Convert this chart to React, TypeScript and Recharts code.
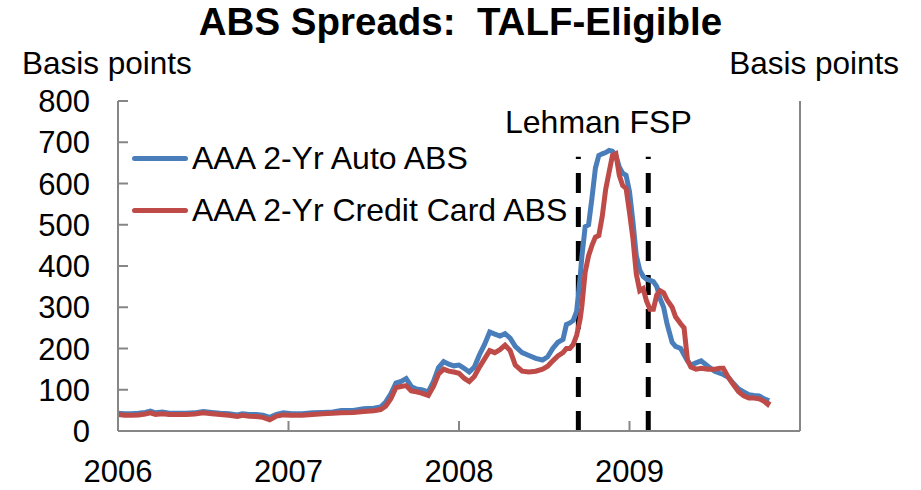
import { LineChart, Line, XAxis, YAxis, ReferenceLine, Legend } from "recharts";

// weekly-ish observation dates, as decimal years
const dates = [
  2006.0, 2006.04, 2006.08, 2006.12, 2006.16, 2006.19, 2006.22, 2006.26, 2006.3, 2006.35,
  2006.4, 2006.45, 2006.5, 2006.55, 2006.6, 2006.65, 2006.7, 2006.73, 2006.77, 2006.81,
  2006.85, 2006.89, 2006.93, 2006.97, 2007.02, 2007.08, 2007.14, 2007.2, 2007.26, 2007.31,
  2007.38, 2007.44, 2007.5, 2007.54, 2007.57, 2007.6, 2007.63, 2007.66, 2007.69, 2007.72,
  2007.75, 2007.78, 2007.82, 2007.85, 2007.88, 2007.91, 2007.94, 2007.97, 2008.0, 2008.03,
  2008.06, 2008.09, 2008.12, 2008.15, 2008.18, 2008.21, 2008.24, 2008.27, 2008.3, 2008.33,
  2008.37, 2008.41, 2008.45, 2008.49, 2008.52, 2008.55, 2008.58, 2008.61, 2008.63, 2008.65,
  2008.67, 2008.69, 2008.71, 2008.72, 2008.74, 2008.76, 2008.78, 2008.8, 2008.82, 2008.84,
  2008.86, 2008.88, 2008.9, 2008.92, 2008.94, 2008.96, 2008.98, 2009.0, 2009.02, 2009.04,
  2009.06, 2009.08, 2009.1, 2009.12, 2009.14, 2009.16, 2009.18, 2009.2, 2009.22, 2009.25,
  2009.27, 2009.3, 2009.32, 2009.34, 2009.36, 2009.39, 2009.42, 2009.46, 2009.5, 2009.53,
  2009.55, 2009.58, 2009.61, 2009.64, 2009.67, 2009.7, 2009.73, 2009.76, 2009.79, 2009.81,
  2009.82,
];

const autoAbs = [
  43, 42, 42, 43, 45, 48, 44, 46, 43, 43,
  43, 44, 47, 45, 43, 42, 39, 42, 40, 40,
  38, 33, 40, 44, 42, 42, 44, 45, 46, 50,
  50, 54, 55, 58, 70, 90, 116, 120, 127, 108,
  102, 100, 95, 120, 154, 168, 162, 158, 160, 152,
  143, 155, 185, 210, 240, 235, 230, 236, 225, 205,
  190, 183, 176, 172, 180, 200, 215, 222, 258, 262,
  268, 290, 370, 420, 495, 500, 565, 637, 668, 672,
  675, 680, 678, 668, 640, 625, 620, 580, 508, 425,
  390, 375, 368, 365, 362, 350, 320, 300, 260, 215,
  205, 200, 185, 170, 160, 165, 170, 157, 145, 140,
  137, 130, 115, 102, 95, 88, 86, 85, 78, 75,
  74,
];

const cardAbs = [
  40, 38, 38, 39, 41, 44, 40, 42, 40, 40,
  40, 41, 44, 42, 40, 38, 35, 38, 36, 35,
  33, 27, 36, 39, 38, 38, 40, 42, 43, 44,
  45, 47, 49, 52, 60, 78, 105, 108, 110, 97,
  95, 92, 86, 108, 138, 150, 145, 143, 140, 128,
  120, 132, 155, 175, 195, 190, 197, 208, 195, 160,
  145, 143, 145, 150, 157, 170, 182, 190, 200, 200,
  210, 232, 270, 300, 385, 425, 450, 470, 474, 520,
  585, 627, 668, 672, 620, 595, 588, 530, 467, 380,
  340, 345, 315, 295, 295, 330, 340, 335, 318, 300,
  277, 260, 250, 172, 155, 150, 152, 150, 150, 152,
  152, 130, 112, 95, 85, 80, 80, 78, 72, 65,
  72,
];

const yearTicks = [2006, 2007, 2008, 2009];
const bpTicks = [0, 100, 200, 300, 400, 500, 600, 700, 800];
const eventDates = [2008.7, 2009.11]; // Lehman, FSP

const seriesNames = ["AAA 2-Yr Auto ABS", "AAA 2-Yr Credit Card ABS"];
const seriesColors = ["#4a7ebb", "#be4b48"];

const data = dates.map((t, i) => ({ t, auto: autoAbs[i], card: cardAbs[i] }));

const font = "'Liberation Sans', Arial, sans-serif";
const axisColor = "#868686";
const tickStyle = { fill: "#000", fontSize: 31, fontFamily: font };

const renderLegend = () => (
  <div style={{ fontFamily: font, fontSize: 32, lineHeight: "52px", color: "#000" }}>
    {seriesNames.map((name, i) => (
      <div key={name} style={{ display: "flex", alignItems: "center", whiteSpace: "nowrap" }}>
        <span
          style={{
            display: "inline-block",
            width: 56,
            height: 5,
            borderRadius: 3,
            background: seriesColors[i],
            marginRight: 4,
          }}
        />
        {name}
      </div>
    ))}
  </div>
);

export default function App() {
  return (
    <div style={{ position: "absolute", left: 0, top: 0, width: 921, height: 490, background: "#fff" }}>
      <div
        style={{
          position: "absolute",
          left: 0,
          width: 921,
          top: 0,
          textAlign: "center",
          fontFamily: font,
          fontWeight: "bold",
          fontSize: 38.5,
        }}
      >
        ABS Spreads:&nbsp; TALF-Eligible
      </div>
      <div style={{ position: "absolute", left: 22, top: 45, fontFamily: font, fontSize: 31.5 }}>
        Basis points
      </div>
      <div style={{ position: "absolute", right: 22, top: 45, fontFamily: font, fontSize: 31.5 }}>
        Basis points
      </div>
      <div style={{ position: "absolute", left: 505, top: 104, fontFamily: font, fontSize: 32 }}>
        Lehman FSP
      </div>
      <LineChart width={921} height={490} data={data} margin={{ top: 101, right: 0, bottom: 0, left: 0 }}>
        <XAxis
          dataKey="t"
          type="number"
          domain={[2006, 2010]}
          ticks={yearTicks}
          height={59}
          stroke={axisColor}
          strokeWidth={2}
          tickSize={-10}
          tickMargin={39}
          tick={tickStyle}
          interval={0}
        />
        <YAxis
          yAxisId="left"
          domain={[0, 800]}
          ticks={bpTicks}
          width={118}
          stroke={axisColor}
          strokeWidth={2}
          tickSize={-10}
          tickMargin={38}
          tick={tickStyle}
          interval={0}
        />
        <YAxis
          yAxisId="right"
          orientation="right"
          domain={[0, 800]}
          ticks={bpTicks}
          width={121}
          stroke={axisColor}
          strokeWidth={2}
          tickSize={-10}
          tickMargin={38}
          tick={tickStyle}
          interval={0}
        />
        {eventDates.map((d) => (
          <ReferenceLine
            key={d}
            yAxisId="left"
            segment={[
              { x: d, y: 0 },
              { x: d, y: 665 },
            ]}
            stroke="#000"
            strokeWidth={5}
            strokeDasharray="20 14"
          />
        ))}
        <Line
          yAxisId="left"
          dataKey="auto"
          name={seriesNames[0]}
          stroke={seriesColors[0]}
          strokeWidth={5}
          dot={false}
          type="linear"
          isAnimationActive={false}
        />
        <Line
          yAxisId="left"
          dataKey="card"
          name={seriesNames[1]}
          stroke={seriesColors[1]}
          strokeWidth={5}
          dot={false}
          type="linear"
          isAnimationActive={false}
        />
        <Legend
          layout="vertical"
          verticalAlign="middle"
          align="center"
          content={renderLegend}
          wrapperStyle={{ left: 132, top: 132, width: "auto", height: "auto" }}
        />
      </LineChart>
    </div>
  );
}
